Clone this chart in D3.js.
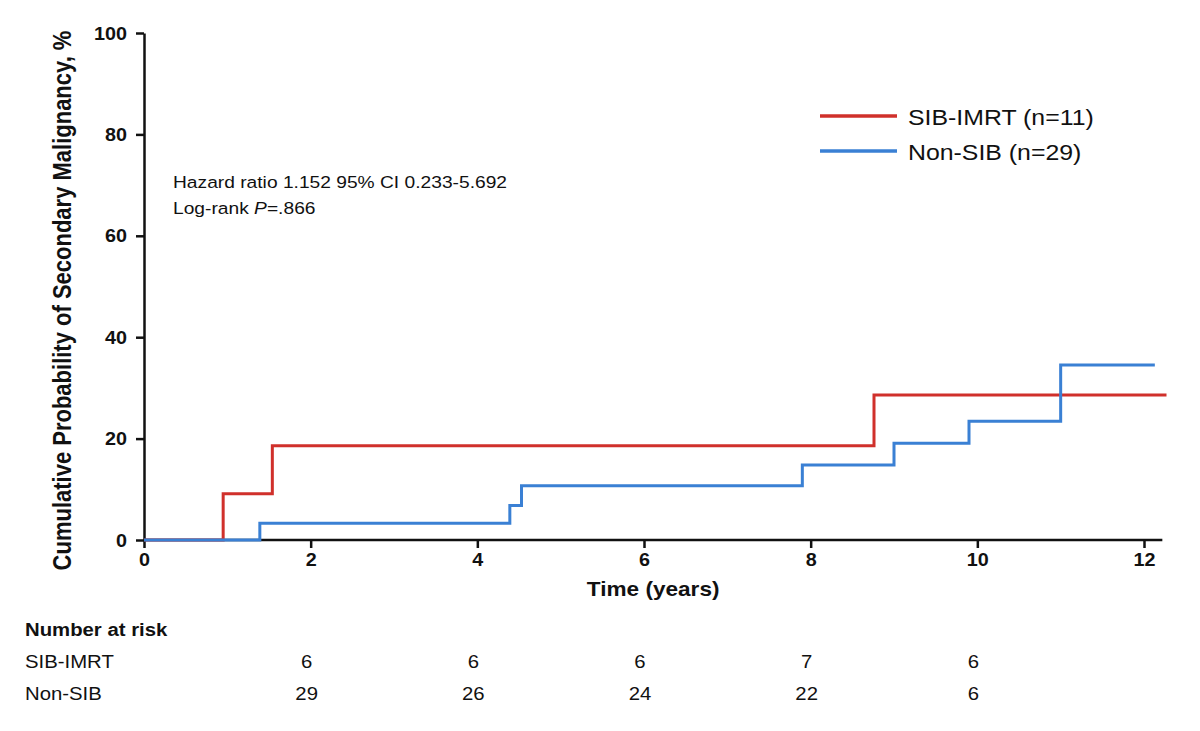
<!DOCTYPE html>
<html>
<head>
<meta charset="utf-8">
<script src="https://cdn.jsdelivr.net/npm/d3@7"></script>
<style>
  body { margin: 0; background: #fff; }
  text { font-family: Arial, "Liberation Sans", sans-serif; fill: #111; }
</style>
</head>
<body>
<svg id="chart" width="1200" height="731"></svg>
<script>
// step points: [time (years), cumulative probability %]
const sibTimes = [0, 0.95, 1.54, 8.76, 12.27];
const sibValues = [0, 9.1, 18.6, 28.6, 28.6];
const nonSibTimes = [0, 1.39, 4.39, 4.53, 7.9, 9.0, 9.9, 11.0, 12.13];
const nonSibValues = [0, 3.3, 6.8, 10.7, 14.8, 19.1, 23.4, 34.5, 34.5];

const xTicks = [0, 2, 4, 6, 8, 10, 12];
const yTicks = [0, 20, 40, 60, 80, 100];

const riskTimes = [2, 4, 6, 8, 10];
const riskSib = [6, 6, 6, 7, 6];
const riskNonSib = [29, 26, 24, 22, 6];

const groups = [
  { name: "SIB-IMRT (n=11)", label: "SIB-IMRT", times: sibTimes, values: sibValues, risk: riskSib, color: "#d0302b" },
  { name: "Non-SIB (n=29)", label: "Non-SIB", times: nonSibTimes, values: nonSibValues, risk: riskNonSib, color: "#3a80d4" },
];

// the source figure is slightly stretched horizontally
const SX = 1.13;

const svg = d3.select("#chart");

const x = d3.scaleLinear().domain([0, 12]).range([144, 1144]);
const y = d3.scaleLinear().domain([0, 100]).range([540, 33]);

// text placed at (px, py), widened by SX
const label = (parent, px, py, size) =>
  parent.append("text")
    .attr("transform", `translate(${px},${py}) scale(${SX},1)`)
    .style("font-size", size + "px");

// axes
const xAxis = svg.append("g")
  .attr("transform", `translate(0,${y(0)})`)
  .call(d3.axisBottom(x).tickValues(xTicks).tickSize(8).tickSizeOuter(0).tickPadding(6));
xAxis.select(".domain").attr("d", `M${x(0)},0H${x(12.22)}`);

const yAxis = svg.append("g")
  .attr("transform", `translate(${x(0)},0)`)
  .call(d3.axisLeft(y).tickValues(yTicks).tickSize(8).tickSizeOuter(0).tickPadding(0));

svg.selectAll(".domain").attr("stroke", "#111").attr("stroke-width", 2.5);
svg.selectAll(".tick line").attr("stroke", "#111").attr("stroke-width", 2.5);
svg.selectAll(".tick text")
  .style("font-family", "Arial, 'Liberation Sans', sans-serif")
  .style("font-size", "17.5px")
  .style("font-weight", "bold")
  .attr("fill", "#111")
  .attr("transform", `scale(${SX},1)`);
yAxis.selectAll(".tick text").attr("x", -17 / SX).attr("dy", "0.35em");

// axis titles
label(svg, (x(0) + x(12.22)) / 2, 596, 20)
  .attr("text-anchor", "middle")
  .style("font-weight", "bold")
  .text("Time (years)");

svg.append("text")
  .attr("transform", `translate(71,${(y(0) + y(100)) / 2 + 14}) scale(${SX},1) rotate(-90)`)
  .attr("text-anchor", "middle")
  .style("font-size", "22px")
  .style("font-weight", "bold")
  .text("Cumulative Probability of Secondary Malignancy, %");

// step curves
const line = d3.line()
  .x((d) => x(d[0]))
  .y((d) => y(d[1]))
  .curve(d3.curveStepAfter);

groups.forEach((g) => {
  svg.append("path")
    .datum(g.times.map((t, i) => [t, g.values[i]]))
    .attr("fill", "none")
    .attr("stroke", g.color)
    .attr("stroke-width", 3)
    .attr("d", line);
});

// annotation
label(svg, 173, 188, 17).text("Hazard ratio 1.152 95% CI 0.233-5.692");
const lr = label(svg, 173, 214, 17);
lr.append("tspan").text("Log-rank ");
lr.append("tspan").style("font-style", "italic").text("P");
lr.append("tspan").text("=.866");

// legend
const legend = svg.append("g");
groups.forEach((g, i) => {
  const ly = 116 + i * 35;
  legend.append("line")
    .attr("x1", 820).attr("x2", 897)
    .attr("y1", ly).attr("y2", ly)
    .attr("stroke", g.color).attr("stroke-width", 3.5);
  label(legend, 908, ly + 9, 22).text(g.name);
});

// number at risk table
label(svg, 25, 636, 18).style("font-weight", "bold").text("Number at risk");

groups.forEach((g, i) => {
  const ry = 668 + i * 32;
  label(svg, 25, ry, 18).text(g.label);
  g.risk.forEach((n, j) => {
    label(svg, x(riskTimes[j]) - 4, ry, 18).attr("text-anchor", "middle").text(n);
  });
});
</script>
</body>
</html>
